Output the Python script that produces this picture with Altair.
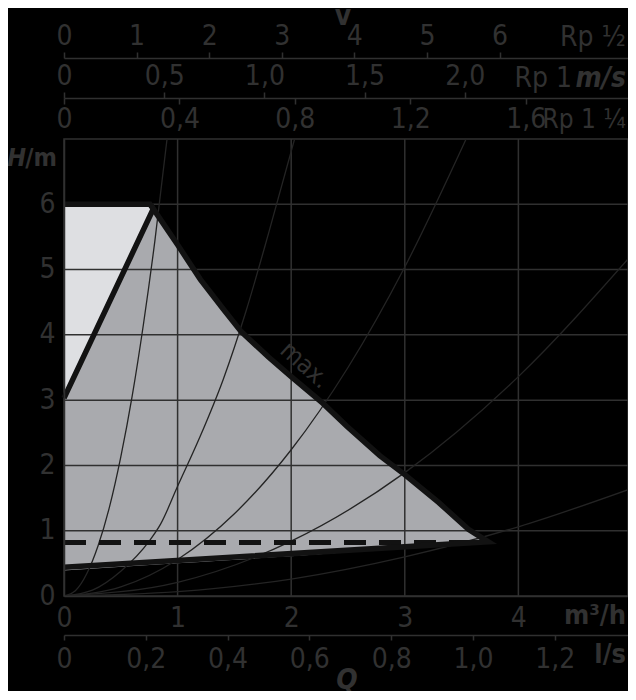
import altair as alt
import pandas as pd

FONT = "'Liberation Sans Narrow', 'DejaVu Sans Condensed', 'Roboto Condensed', 'Roboto', sans-serif"
TXT = "#313131"
GRID = "#303030"
INK = "#121212"
MID = "#a9aaae"
LIGHT = "#dedfe2"

Q_MAX = 4.965          # right edge of the plot (m3/h)
W, HT = 564, 457

# ---- tick labels ----
q_labels = [0, 1, 2, 3, 4]                 # m3/h
h_labels = [0, 1, 2, 3, 4, 5, 6]           # H/m
ls_labels = [0, 0.2, 0.4, 0.6, 0.8, 1.0, 1.2]  # l/s
rp12_labels = [0, 1, 2, 3, 4, 5, 6]        # v in Rp 1/2
rp1_labels = [0, 0.5, 1.0, 1.5, 2.0]       # v in Rp 1
rp114_labels = [0, 0.4, 0.8, 1.2, 1.6]     # v in Rp 1 1/4
grid_q = [1, 2, 3, 4]
grid_h = [1, 2, 3, 4, 5, 6]

# m3/h per unit of each secondary axis
LS = 3.6
RP12 = 0.639
RP1 = 1.764
RP114 = 2.54

# ---- operating field ----
mid_q = [0, 0.786, 1.0, 1.2, 1.4, 1.56, 1.8, 2.0, 2.28, 2.49, 2.78, 3.0, 3.3, 3.56, 3.735]
mid_top = [3.03, 5.93, 5.38, 4.85, 4.40, 4.05, 3.66, 3.36, 2.95, 2.60, 2.15, 1.86, 1.43, 1.02, 0.83]
mid_bottom = [0.39, 0.48, 0.50, 0.52, 0.545, 0.56, 0.59, 0.61, 0.645, 0.67, 0.70, 0.725, 0.76, 0.79, 0.81]

light_q = [0, 0.757, 0.786]
light_top = [6.0, 6.0, 5.93]
light_bottom = [3.03, 5.82, 5.93]

# thick outline: left line -> max curve -> bottom line
outline_q = [0] + mid_q[1:] + [0]
outline_h = [3.03] + mid_top[1:] + [0.44]
top_q = [0, 0.757, 0.786]
top_h = [6.0, 6.0, 5.93]

dash_q = [0, 3.58]
dash_h = [0.82, 0.82]

# ---- system curves ----
curves = {
    "A": ([0, 0.1, 0.2, 0.3, 0.4, 0.5, 0.6, 0.7, 0.8, 0.907],
          [0, 0.08, 0.34, 0.77, 1.36, 2.13, 3.06, 4.17, 5.44, 7.0]),
    "B": ([0, 0.25, 0.5, 0.75, 0.85, 1.0, 1.2, 1.4, 1.6, 1.8, 2.03],
          [0, 0.09, 0.38, 0.84, 1.1, 1.68, 2.45, 3.31, 4.35, 5.55, 7.0]),
    "C": ([0, 0.5, 1.0, 1.5, 2.0, 2.5, 3.0, 3.54],
          [0, 0.14, 0.56, 1.26, 2.24, 3.5, 5.04, 7.0]),
    "D": ([0, 1, 2, 3, 4, 5],
          [0, 0.21, 0.84, 1.89, 3.36, 5.23]),
    "E": ([0, 1, 2, 3, 4, 5],
          [0, 0.066, 0.26, 0.6, 1.06, 1.65]),
}

xs = alt.Scale(domain=[0, Q_MAX], nice=False, zero=False)
ys = alt.Scale(domain=[0, 7], nice=False, zero=False)

comma = "datum.value == 0 ? '0' : replace(format(datum.value, '.1f'), '.', ',')"

xaxis = alt.Axis(orient="bottom", values=q_labels, grid=False, ticks=False, domain=True,
                 domainColor=GRID, domainWidth=1.5, labelFont=FONT, labelFontSize=28,
                 labelColor=TXT, labelPadding=8, labelFlush=False, labelOverlap=False,
                 title=None, zindex=1, format="d")
yaxis = alt.Axis(orient="left", values=h_labels, grid=False, ticks=False, domain=True,
                 domainColor=GRID, domainWidth=1.5, labelFont=FONT, labelFontSize=28,
                 labelColor=TXT, labelPadding=9, labelFlush=False, labelOverlap=False,
                 title=None, zindex=1, format="d")


def X(f):
    return alt.X(f, type="quantitative", scale=xs, axis=xaxis)


def Y(f):
    return alt.Y(f, type="quantitative", scale=ys, axis=yaxis)


mid_df = pd.DataFrame({"q": mid_q, "h": mid_top, "lo": mid_bottom})
light_df = pd.DataFrame({"q": light_q, "h": light_top, "lo": light_bottom})
outline_df = pd.DataFrame({"q": outline_q, "h": outline_h, "i": list(range(len(outline_q)))})
top_df = pd.DataFrame({"q": top_q, "h": top_h, "i": list(range(len(top_q)))})
dash_df = pd.DataFrame({"q": dash_q, "h": dash_h})
rows = []
for name, (qq, hh) in curves.items():
    for a, b in zip(qq, hh):
        rows.append({"c": name, "q": a, "h": b})
curve_df = pd.DataFrame(rows)

mid = alt.Chart(mid_df).mark_area(color=MID, opacity=1).encode(x=X("q"), y=Y("h"), y2="lo")
light = alt.Chart(light_df).mark_area(color=LIGHT, opacity=1).encode(x=X("q"), y=Y("h"), y2="lo")
vgrid = alt.Chart(pd.DataFrame({"q": grid_q})).mark_rule(color=GRID, strokeWidth=1.5).encode(x=X("q"))
hgrid = alt.Chart(pd.DataFrame({"h": grid_h})).mark_rule(color=GRID, strokeWidth=1.5).encode(y=Y("h"))
curve_lines = alt.Chart(curve_df).mark_line(color="#242424", strokeWidth=1.3, interpolate="monotone",
                                            clip=True).encode(x=X("q"), y=Y("h"), detail="c")
dash = alt.Chart(dash_df).mark_line(color=INK, strokeWidth=5, strokeDash=[22, 13]).encode(x=X("q"), y=Y("h"))
outline = alt.Chart(outline_df).mark_line(color=INK, strokeWidth=5.5, strokeJoin="miter",
                                          strokeMiterLimit=10).encode(x=X("q"), y=Y("h"), order="i")
topline = alt.Chart(top_df).mark_line(color=INK, strokeWidth=5.5, strokeJoin="miter").encode(
    x=X("q"), y=Y("h"), order="i")

main = alt.layer(light, mid, vgrid, hgrid, curve_lines, dash, outline, topline)


def axis_layer(field, factor, **kw):
    base = dict(grid=False, title=None, labelFont=FONT, labelFontSize=28, labelColor=TXT,
                labelFlush=False, labelOverlap=False, domainColor=GRID, domainWidth=1.5,
                tickColor=GRID, tickWidth=1.5)
    base.update(kw)
    df = pd.DataFrame({field: [0]})
    return alt.Chart(df).mark_point(opacity=0).encode(
        x=alt.X(f"{field}:Q", scale=alt.Scale(domain=[0, Q_MAX / factor], nice=False, zero=False),
                axis=alt.Axis(**base)))


ax_ls = axis_layer("ls", LS, orient="bottom", offset=39, values=ls_labels, ticks=True, tickSize=5,
                   domain=True, labelPadding=5, labelExpr=comma)
ax_r114_lab = axis_layer("r114a", RP114, orient="top", offset=0, values=rp114_labels, ticks=False,
                         domain=False, labelPadding=6, labelExpr=comma)
ax_r114_tick = axis_layer("r114b", RP114, orient="top", offset=35, values=rp114_labels, ticks=True,
                          tickSize=6, domain=False, labels=False)
ax_r1 = axis_layer("r1", RP1, orient="top", offset=41, values=rp1_labels, ticks=True, tickSize=6,
                   domain=True, labelPadding=2, labelExpr=comma)
ax_r12 = axis_layer("r12", RP12, orient="top", offset=81, values=rp12_labels, ticks=True, tickSize=6,
                    domain=True, labelPadding=2, format="d")


def label(text, x, y, size=28, weight="normal", style="normal", align="center", angle=0,
          baseline="middle"):
    return alt.Chart(pd.DataFrame({"t": [text]})).mark_text(
        font=FONT, fontSize=size, fontWeight=weight, fontStyle=style, color=TXT, align=align,
        baseline=baseline, angle=angle).encode(text="t:N", x=alt.value(x), y=alt.value(y))


RX = W - 2
texts = [
    label("v", 279, -114, size=28, weight="bold", baseline="alphabetic"),
    label("Rp ½", RX, -101, align="right"),
    label("m/s", RX, -60, weight="bold", style="italic", align="right"),
    label("Rp 1", RX - 54, -60, align="right"),
    label("Rp 1 ¼", RX, -19, size=26, align="right"),
    label("H", -38, 19, size=25, weight="bold", style="italic", align="right"),
    label("/m", -7, 19, size=25, weight="bold", align="right"),
    label("m³/h", RX, 477, size=27, weight="bold", align="right"),
    label("l/s", RX, 516, size=27, weight="bold", align="right"),
    label("Q", 283, 550, size=28, weight="bold", style="italic", baseline="alphabetic"),
    label("max.", 241, 226, size=25, angle=42),
]

chart = alt.layer(main, ax_ls, ax_r114_lab, ax_r114_tick, ax_r1, ax_r12, *texts).resolve_scale(
    x="independent").properties(
    width=W, height=HT,
    padding={"left": 56, "top": 131, "right": 0, "bottom": 95},
    autosize=alt.AutoSizeParams(type="none"),
    background="#000000",
).configure_view(stroke=GRID, strokeWidth=1.5)

chart.save("out.html", embed_options={"renderer": "svg", "actions": False})
